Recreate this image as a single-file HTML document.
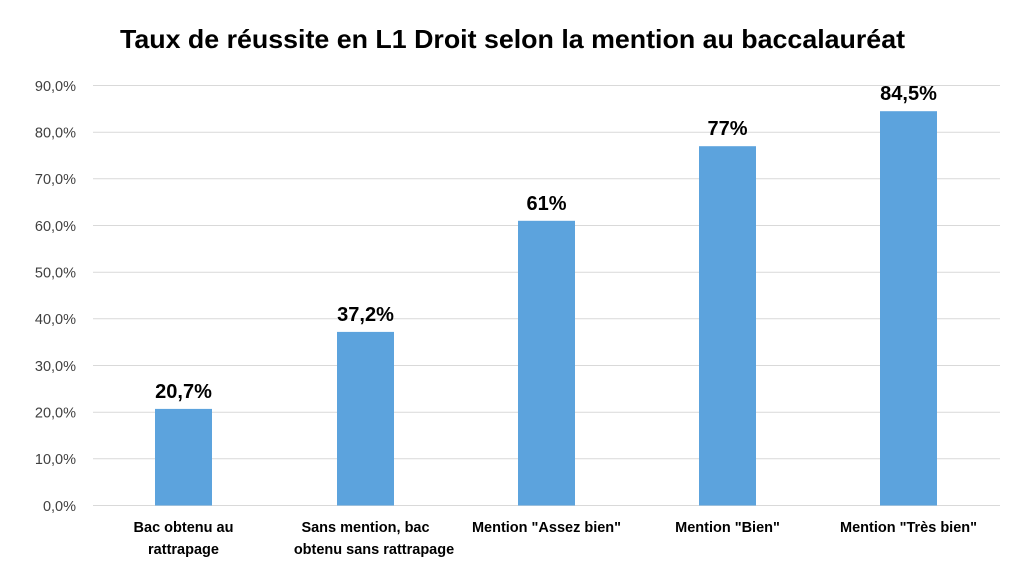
<!DOCTYPE html>
<html><head><meta charset="utf-8"><style>
body{margin:0;background:#fff;}
svg{display:block;font-family:"Liberation Sans",Arial,sans-serif;}
</style></head><body>
<svg width="1024" height="576" viewBox="0 0 1024 576">
<text x="120" y="48" textLength="785" lengthAdjust="spacingAndGlyphs" font-size="26" font-weight="bold" fill="#000">Taux de réussite en L1 Droit selon la mention au baccalauréat</text>
<g stroke="#d9d9d9" stroke-width="1">
<line x1="93" x2="1000" y1="85.5" y2="85.5"/>
<line x1="93" x2="1000" y1="132.2" y2="132.2"/>
<line x1="93" x2="1000" y1="178.8" y2="178.8"/>
<line x1="93" x2="1000" y1="225.5" y2="225.5"/>
<line x1="93" x2="1000" y1="272.2" y2="272.2"/>
<line x1="93" x2="1000" y1="318.8" y2="318.8"/>
<line x1="93" x2="1000" y1="365.5" y2="365.5"/>
<line x1="93" x2="1000" y1="412.2" y2="412.2"/>
<line x1="93" x2="1000" y1="458.8" y2="458.8"/>
<line x1="93" x2="1000" y1="505.5" y2="505.5"/>
</g>
<g font-size="14.5" fill="#404040" text-anchor="end">
<text x="76" y="91">90,0%</text><text x="76" y="137.5">80,0%</text><text x="76" y="184">70,0%</text>
<text x="76" y="231">60,0%</text><text x="76" y="277.5">50,0%</text><text x="76" y="324">40,0%</text>
<text x="76" y="371">30,0%</text><text x="76" y="417.5">20,0%</text><text x="76" y="464">10,0%</text>
<text x="76" y="511">0,0%</text>
</g>
<g fill="#5ca3dd">
<rect x="155" y="408.9" width="57" height="96.6"/>
<rect x="337" y="331.9" width="57" height="173.6"/>
<rect x="518" y="220.8" width="57" height="284.7"/>
<rect x="699" y="146.2" width="57" height="359.3"/>
<rect x="880" y="111.2" width="57" height="394.3"/>
</g>
<g font-size="20" font-weight="bold" fill="#000" text-anchor="middle">
<text x="183.5" y="398">20,7%</text><text x="365.5" y="321">37,2%</text>
<text x="546.5" y="210">61%</text><text x="727.5" y="135">77%</text><text x="908.5" y="100">84,5%</text>
</g>
<g font-size="14.5" font-weight="bold" fill="#000" text-anchor="middle">
<text x="183.5" y="532">Bac obtenu au</text><text x="183.5" y="554">rattrapage</text>
<text x="365.5" y="532">Sans mention, bac</text><text x="374" y="554">obtenu sans rattrapage</text>
<text x="546.5" y="532">Mention "Assez bien"</text>
<text x="727.5" y="532">Mention "Bien"</text>
<text x="908.5" y="532">Mention "Très bien"</text>
</g>
</svg>
</body></html>
